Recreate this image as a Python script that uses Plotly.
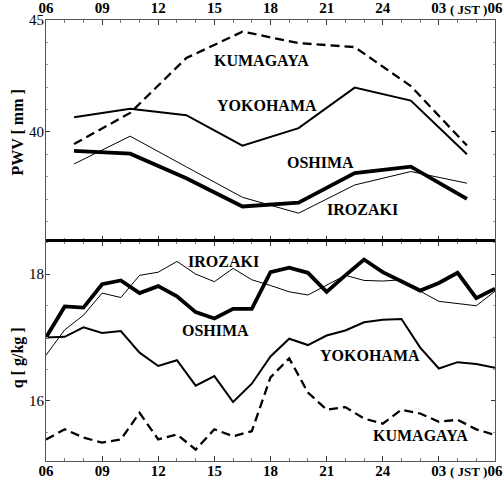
import plotly.graph_objects as go

# ---------------- data ----------------
pwv_hours = [7.5, 10.5, 13.5, 16.5, 19.5, 22.5, 25.5, 28.5]
pwv_kumagaya = [39.46, 40.85, 43.30, 44.48, 43.97, 43.79, 42.05, 39.39]
pwv_yokohama = [40.66, 41.04, 40.75, 39.39, 40.17, 41.98, 41.40, 39.00]
pwv_irozaki = [38.57, 39.81, 38.44, 37.08, 36.37, 37.63, 38.23, 37.71]
pwv_oshima = [39.15, 39.03, 37.93, 36.67, 36.84, 38.16, 38.45, 37.01]

q_hours = list(range(6, 31))
q_oshima = [17.00, 17.49, 17.47, 17.84, 17.90, 17.70, 17.81, 17.65, 17.40, 17.30,
            17.45, 17.45, 18.03, 18.10, 18.02, 17.72, 17.98, 18.23, 18.03, 17.88,
            17.74, 17.86, 18.02, 17.62, 17.77]
q_irozaki = [16.72, 17.12, 17.35, 17.70, 17.63, 17.98, 18.03, 18.20, 18.00, 17.88,
             18.09, 17.91, 17.82, 17.72, 17.67, 17.83, 17.98, 17.90, 17.89, 17.91,
             17.73, 17.57, 17.53, 17.50, 17.73]
q_yokohama = [17.00, 17.01, 17.16, 17.07, 17.10, 16.76, 16.55, 16.64, 16.24, 16.39,
              15.98, 16.27, 16.70, 16.98, 16.88, 17.03, 17.11, 17.24, 17.28, 17.29,
              16.84, 16.51, 16.61, 16.58, 16.52]
q_kumagaya = [15.39, 15.55, 15.42, 15.34, 15.39, 15.81, 15.39, 15.47, 15.23, 15.55,
              15.44, 15.52, 16.37, 16.67, 16.13, 15.86, 15.90, 15.72, 15.64, 15.86,
              15.80, 15.67, 15.70, 15.55, 15.46]

x_tickvals = [6, 9, 12, 15, 18, 21, 24, 27, 30]
x_ticktext = ["06", "09", "12", "15", "18", "21", "24", "03", "06"]

SERIF = "Liberation Serif"

fig = go.Figure()

styles = {
    "KUMAGAYA": dict(color="black", width=2.3, dash="9px,5px"),
    "YOKOHAMA": dict(color="black", width=2.0),
    "IROZAKI": dict(color="black", width=1.0),
    "OSHIMA": dict(color="black", width=3.8),
}

for name, ys in [("IROZAKI", pwv_irozaki), ("YOKOHAMA", pwv_yokohama),
                 ("KUMAGAYA", pwv_kumagaya), ("OSHIMA", pwv_oshima)]:
    fig.add_trace(go.Scatter(x=pwv_hours, y=ys, mode="lines", line=styles[name],
                             xaxis="x", yaxis="y", showlegend=False, name=name,
                             hoverinfo="skip"))

for name, ys in [("IROZAKI", q_irozaki), ("YOKOHAMA", q_yokohama),
                 ("KUMAGAYA", q_kumagaya), ("OSHIMA", q_oshima)]:
    fig.add_trace(go.Scatter(x=q_hours, y=ys, mode="lines", line=styles[name],
                             xaxis="x2", yaxis="y2", showlegend=False, name=name,
                             hoverinfo="skip"))

tickfont_b = dict(family=SERIF, size=15, color="black", weight="bold")
common_x = dict(range=[6, 30], tickmode="array", tickvals=x_tickvals, ticktext=x_ticktext,
                ticks="inside", ticklen=5, tickcolor="#333", showgrid=False, zeroline=False,
                showline=True, linecolor="#555", linewidth=1, mirror="ticks",
                tickfont=tickfont_b, automargin=False,
                minor=dict(dtick=1, tick0=6, ticks="inside", ticklen=3, tickcolor="#777"))
common_y = dict(ticks="inside", ticklen=4, tickcolor="#333", showgrid=False, zeroline=False,
                showline=True, linecolor="#555", linewidth=1, mirror="ticks",
                tickfont=dict(family=SERIF, size=15, color="black"),
                automargin=False, ticklabelstandoff=-2)
fig.update_layout(
    width=504, height=480,
    margin=dict(l=46, r=9, t=20, b=19),
    paper_bgcolor="white", plot_bgcolor="white",
    xaxis=dict(**common_x, anchor="y", side="top"),
    yaxis=dict(**common_y, domain=[0.5, 1], range=[35.15, 45], tickvals=[40, 45],
               minor=dict(dtick=1, ticks="inside", ticklen=2, tickcolor="#999")),
    xaxis2=dict(**common_x, anchor="y2", side="bottom", ticklabelstandoff=-4),
    yaxis2=dict(**common_y, domain=[0, 0.5], range=[15.05, 18.53], tickvals=[16, 18],
                minor=dict(dtick=0.5, ticks="inside", ticklen=2, tickcolor="#999")),
)

# thick divider between panels
fig.add_shape(type="line", xref="paper", yref="paper", x0=0, x1=1, y0=0.5, y1=0.5,
              line=dict(color="black", width=3))

lab_font = dict(family=SERIF, size=16, color="black", weight="bold")
labels = [
    ("x", "y", 17.5, 43.2, "KUMAGAYA"),
    ("x", "y", 17.8, 41.16, "YOKOHAMA"),
    ("x", "y", 20.65, 38.62, "OSHIMA"),
    ("x", "y", 22.9, 36.52, "IROZAKI"),
    ("x2", "y2", 15.5, 18.2, "IROZAKI"),
    ("x2", "y2", 15.04, 17.11, "OSHIMA"),
    ("x2", "y2", 23.3, 16.71, "YOKOHAMA"),
    ("x2", "y2", 26.0, 15.46, "KUMAGAYA"),
]
for xr, yr, xv, yv, t in labels:
    fig.add_annotation(xref=xr, yref=yr, x=xv, y=yv, text=t, showarrow=False,
                       xanchor="center", yanchor="middle",
                       font=lab_font, bgcolor="rgba(0,0,0,0)")

# (JST) annotations on both time axes
jst_font = dict(family=SERIF, size=13, color="black", weight="bold")
fig.add_annotation(xref="x", yref="paper", x=28.56, y=1, yanchor="bottom", yshift=1,
                   text="( JST )", showarrow=False, font=jst_font)
fig.add_annotation(xref="x2", yref="paper", x=28.56, y=0, yanchor="top", yshift=-1,
                   text="( JST )", showarrow=False, font=jst_font)

# y-axis titles
ytitle_font = dict(family=SERIF, size=16, color="black", weight="bold")
fig.add_annotation(xref="paper", yref="paper", x=-0.0635, y=0.746, text="PWV [ mm ]",
                   textangle=-90, showarrow=False, xanchor="center", yanchor="middle",
                   font=ytitle_font)
fig.add_annotation(xref="paper", yref="paper", x=-0.0635, y=0.234, text="q [ g/kg ]",
                   textangle=-90, showarrow=False, xanchor="center", yanchor="middle",
                   font=ytitle_font)

fig.write_html("out.html", config={"displayModeBar": False},
               post_script="document.body.style.margin='0';document.body.style.overflow='hidden';")
